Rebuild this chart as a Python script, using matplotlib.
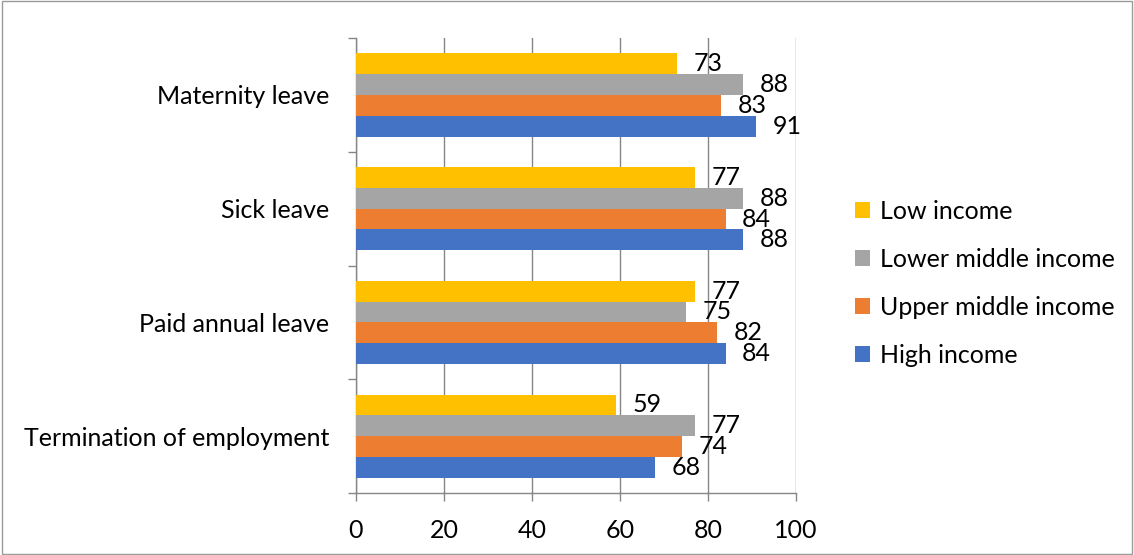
import matplotlib.pyplot as plt
import numpy as np

plt.rcParams['font.family'] = ['Lato', 'DejaVu Sans']

categories = ["Termination of employment", "Paid annual leave", "Sick leave", "Maternity leave"]
series = ["Low income", "Lower middle income", "Upper middle income", "High income"]
low = [59, 77, 77, 73]
lower_middle = [77, 75, 88, 88]
upper_middle = [74, 82, 84, 83]
high = [68, 84, 88, 91]
colors = ["#FFC000", "#A5A5A5", "#ED7D31", "#4472C4"]

values = [low, lower_middle, upper_middle, high]

fig = plt.figure(figsize=(11.34, 5.55), dpi=100)
ax = fig.add_axes([0.3139, 0.1117, 0.388, 0.8198])

y = np.arange(len(categories))
h = 0.183
offsets = [1.5 * h, 0.5 * h, -0.5 * h, -1.5 * h]

for vals, name, col, off in zip(values, series, colors, offsets):
    bars = ax.barh(y + off, vals, height=h, color=col, label=name, zorder=3)
    for b, v in zip(bars, vals):
        ax.annotate(str(v), (v, b.get_y() + b.get_height() / 2),
                    xytext=(12, 0), textcoords="offset points",
                    va="center", ha="left", fontsize=18, color="#000000")

ax.set_xlim(0, 100)
ax.set_ylim(-0.5, len(categories) - 0.5)
ax.set_xticks(range(0, 101, 20))
ax.set_yticks(y)
ax.set_yticklabels(categories)
ax.set_yticks(np.arange(-0.5, len(categories), 1), minor=True)
ax.tick_params(axis="y", which="major", length=0, pad=19, labelsize=18)
ax.tick_params(axis="y", which="minor", length=6, color="#868686", width=1)
ax.tick_params(axis="x", length=6, color="#868686", width=1, labelsize=18, pad=13)
ax.grid(axis="x", color="#868686", linewidth=1, zorder=0)
for s in ["top", "right"]:
    ax.spines[s].set_visible(False)
for s in ["left", "bottom"]:
    ax.spines[s].set_color("#868686")
    ax.spines[s].set_linewidth(1)

handles, labels = ax.get_legend_handles_labels()
fig.legend(handles, labels, loc="center left", bbox_to_anchor=(0.734, 0.489),
           frameon=False, fontsize=18, handlelength=0.62, handleheight=0.62,
           handletextpad=0.4, labelspacing=1.0)

fig.patches.append(plt.Rectangle((0.0015, 0.002), 0.997, 0.996, transform=fig.transFigure,
                                 fill=False, edgecolor="#9a9a9a", linewidth=1))

fig.savefig("out.png", dpi=100)
